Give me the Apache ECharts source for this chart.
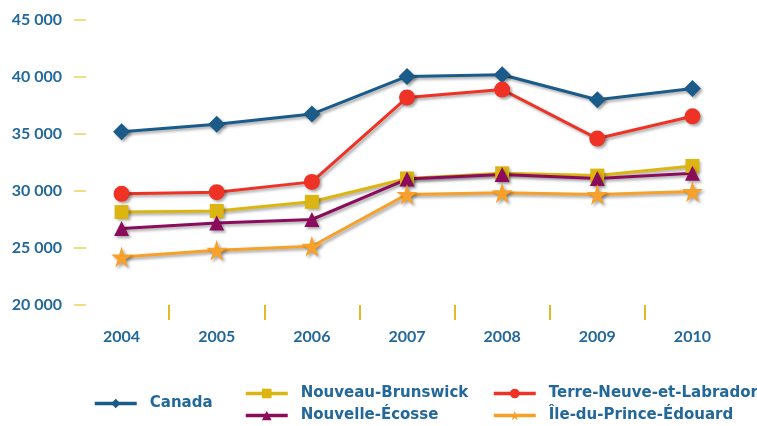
<!DOCTYPE html>
<html><head><meta charset="utf-8">
<script src="https://cdn.jsdelivr.net/npm/echarts@6/dist/echarts.min.js"></script>
<style>html,body{margin:0;padding:0;background:#fff}#c{width:757px;height:426px}</style>
</head><body><div id="c"></div>
<script>
const years = ['2004','2005','2006','2007','2008','2009','2010'];
const canada = [35200, 35850, 36750, 40050, 40200, 38000, 39000];
const nouveauBrunswick = [28150, 28250, 29050, 31100, 31550, 31350, 32200];
const terreNeuve = [29750, 29900, 30800, 38200, 38900, 34600, 36550];
const nouvelleEcosse = [26700, 27200, 27500, 31050, 31450, 31100, 31550];
const ipe = [24200, 24800, 25150, 29700, 29850, 29700, 29950];
const yTicks = [20000, 45000, 5000];

const FONT = 'Lato';
const LFONT = 'DejaVu Sans';
const TXT = '#23689a';
const shadow = {shadowColor:'rgba(0,0,0,0.35)', shadowBlur:3, shadowOffsetX:2, shadowOffsetY:2};

function mk(name, data, color, symbol, size){
  return {name, type:'line', data, xAxisIndex:0, symbol, symbolSize:size,
    lineStyle:Object.assign({color, width:3}, shadow),
    itemStyle:Object.assign({color}, shadow),
    emphasis:{disabled:true}, z: 3};
}
const series = [
  mk('Canada', canada, '#1b5b8a', 'diamond', 17),
  mk('Nouveau-Brunswick', nouveauBrunswick, '#dcb512', 'rect', 14),
  mk('Terre-Neuve-et-Labrador', terreNeuve, '#ee3226', 'circle', 16),
  mk('Nouvelle-Écosse', nouvelleEcosse, '#8c0c5c', 'triangle', 15),
  mk('Île-du-Prince-Édouard', ipe, '#f7a02a', 'path://M50,0 L61,35 L98,35 L68,57 L79,92 L50,70 L21,92 L32,57 L2,35 L39,35 Z', 21)
];
function leg(names, left, top){
  return {data:names, left, top, orient:'vertical', itemWidth:42, itemHeight:12, itemGap:7,
    selectedMode:false, padding:0,
    lineStyle:{width:3.5, shadowBlur:0, shadowOffsetX:0, shadowOffsetY:0},
    itemStyle:{shadowBlur:0, shadowOffsetX:0, shadowOffsetY:0},
    textStyle:{color:TXT, fontFamily:LFONT, fontWeight:'bold', fontSize:15, padding:[0,0,0,8]}};
}
const chart = echarts.init(document.getElementById('c'), null, {renderer:'canvas'});
chart.setOption({
  animation:false,
  grid:{left:74, right:17, top:20, bottom:121, containLabel:false},
  legend:[
    leg(['Canada'], 93, 396),
    leg(['Nouveau-Brunswick','Nouvelle-Écosse'], 244, 386),
    leg(['Terre-Neuve-et-Labrador','Île-du-Prince-Édouard'], 492, 386)
  ],
  xAxis:[
    {type:'category', data:years, boundaryGap:true,
     axisLine:{show:false}, axisTick:{show:false},
     axisLabel:{color:TXT, fontFamily:FONT, fontWeight:'bold', fontSize:16, margin:24}},
    {type:'value', min:0, max:years.length, interval:1, position:'bottom',
     axisLine:{show:false}, splitLine:{show:false}, axisLabel:{show:false},
     axisTick:{show:true, length:15, customValues:[1,2,3,4,5,6], lineStyle:{color:'#e6b920', width:2}}}
  ],
  yAxis:{type:'value', min:yTicks[0], max:yTicks[1], interval:yTicks[2],
    axisLine:{show:false}, splitLine:{show:false},
    axisTick:{show:true, inside:true, length:12, lineStyle:{color:'#efd062', width:1.5}},
    axisLabel:{color:TXT, fontFamily:FONT, fontWeight:'bold', fontSize:16, margin:12,
      formatter:v=>String(v).replace(/\B(?=(\d{3})+(?!\d))/g,' ')}},
  series
});
</script></body></html>
